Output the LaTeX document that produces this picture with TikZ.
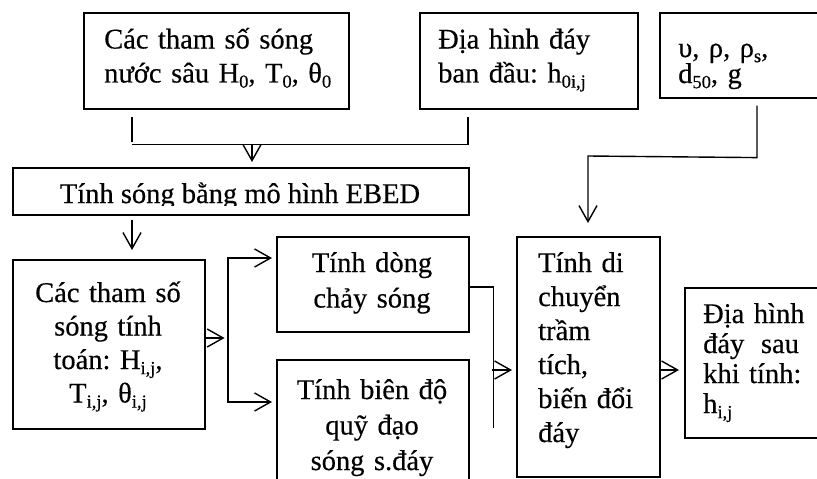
\documentclass[tikz,border=0pt]{standalone}
\usepackage{fontspec}
\setmainfont[FakeBold=0.4]{Liberation Serif}
\usetikzlibrary{arrows.meta,calc}
\newcommand\sbs[1]{\raisebox{-0.18em}{\fontsize{18.5}{18.5}\selectfont #1}}
\begin{document}
\frenchspacing
\begin{tikzpicture}[x=1pt,y=-1pt,
  box/.style={draw,line width=1.6pt,inner sep=0pt,anchor=north west},
  txt/.style={inner sep=0pt,font=\fontsize{28.5}{34}\selectfont},
  conn/.style={line width=1.4pt},
  arr/.style={conn,-{Straight Barb[length=16pt,width=18pt,line width=1.4pt]}}]
\useasboundingbox (0,0) rectangle (817,479);
% boxes
\node[box,minimum width=265pt,minimum height=96pt] (b1) at (83,12) {};
\node[box,minimum width=218pt,minimum height=96pt] (b2) at (419,12) {};
\node[box,minimum width=165pt,minimum height=85pt] (b3) at (659,12) {};
\node[box,minimum width=456pt,minimum height=47pt] (ebed) at (12,167) {};
\node[box,minimum width=192pt,minimum height=169pt] (b5) at (12,259) {};
\node[box,minimum width=192pt,minimum height=95pt] (b6) at (276,236) {};
\node[box,minimum width=192pt,minimum height=130pt] (b7) at (276,359) {};
\node[box,minimum width=143pt,minimum height=240pt] (b8) at (516,236) {};
\node[box,minimum width=140pt,minimum height=150pt] (b9) at (684,287) {};
% texts
\node[txt,anchor=base west,text width=240pt,align=left] (t1) at (104,48.5)
  {Các tham số sóng\\nước sâu H\sbs{0}, T\sbs{0}, θ\sbs{0}};
\node[txt,anchor=base west,text width=190pt,align=left] (t2) at (438,48.5)
  {Địa hình đáy\\ban đầu: h\sbs{0i,j}};
\node[txt,anchor=base west,text width=130pt,align=left,font=\fontsize{28.5}{26}\selectfont] (t3) at (678,57)
  {υ, ρ, ρ\sbs{s},\\d\sbs{50}, g};
\begin{scope}
  \clip (12,167) rectangle (468,205);
  \node[txt,anchor=base] (te) at (240,203) {Tính sóng bằng mô hình EBED};
\end{scope}
\node[txt,anchor=base,text width=190pt,align=center,font=\fontsize{28.5}{33.5}\selectfont] (t5) at (108,302)
  {Các tham số\\sóng tính\\toán: H\sbs{i,j},\\T\sbs{i,j}, θ\sbs{i,j}};
\node[txt,anchor=base,text width=190pt,align=center,font=\fontsize{28.5}{35.5}\selectfont] (t6) at (372,272)
  {Tính dòng\\chảy sóng};
\node[txt,anchor=base,text width=190pt,align=center,font=\fontsize{28.5}{35.5}\selectfont] (t7) at (372,399)
  {Tính biên độ\\quỹ đạo\\sóng s.đáy};
\node[txt,anchor=base west,text width=125pt,align=left] (t8) at (538,272)
  {Tính di\\chuyển\\trầm\\tích,\\biến đổi\\đáy};
\node[txt,anchor=base west,text width=115pt,align=left,font=\fontsize{28.5}{30}\selectfont] (t9) at (703,323)
  {Địa hình\\đáy\hspace{0.25em} sau\\khi tính:\\h\sbs{i,j}};
% connectors
\coordinate (j1) at ($(b1.south west)+(169,35)$);
\draw[conn] ($(b1.south west)+(49,7)$) -- ($(b1.south west)+(49,32)$);
\draw[conn] ($(b1.south west)+(49,35)$) -- ($(b2.south west)+(49,35)$) -- ($(b2.south west)+(49,7)$);
\draw[arr,shorten >=5pt] (j1) -- (j1 |- ebed.north);
\draw[arr,shorten >=9pt] ($(ebed.south west)+(120,4)$) -- ($(b5.north west)+(120,0)$);
\draw[arr] ($(b5.north east)+(0,79)$) -- ++(19,0);
\coordinate (bt) at ($(b6.north west)+(-48,22)$);
\coordinate (bb) at ($(b7.north west)+(-48,43)$);
\draw[arr,shorten >=4pt] (bb) -- (bt) -- (bt -| b6.west);
\draw[arr,shorten >=4pt] (bt) -- (bb) -- (bb -| b7.west);
\draw[conn] ($(b6.north east)+(0,51)$) -- ++(24,0) -- ++(0,141);
\draw[arr,shorten >=4pt] ($(b8.north west)+(-24,134)$) -- ($(b8.north west)+(0,134)$);
\draw[arr,shorten >=5pt] ($(b8.north east)+(0,134)$) -- ($(b9.north west)+(0,83)$);
\coordinate (c3a) at ($(b3.south west)+(98,7)$);
\draw[arr,shorten >=13pt] (c3a) -- ++(0,52) -- ($(b8.north west)+(72,-80)$) -- ($(b8.north west)+(72,0)$);
\end{tikzpicture}
\end{document}
